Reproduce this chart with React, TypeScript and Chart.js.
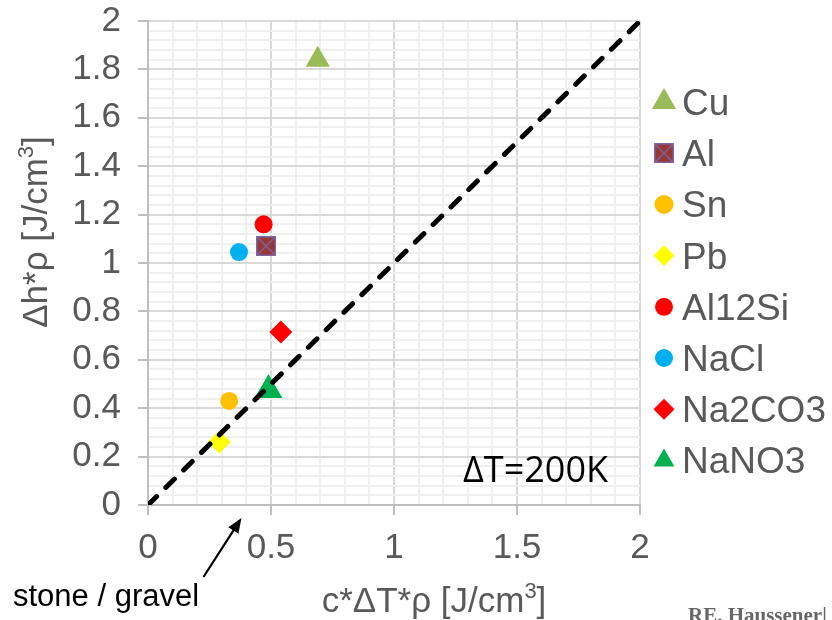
import React, { useEffect, useRef } from "react";
import { Chart, registerables } from "chart.js";
import { drawPoint } from "chart.js/helpers";

Chart.register(...registerables);

// ---- data ----
const materials = ["Cu", "Al", "Sn", "Pb", "Al12Si", "NaCl", "Na2CO3", "NaNO3"];
const sensibleHeat = [0.69, 0.48, 0.33, 0.29, 0.47, 0.37, 0.54, 0.49]; // c*ΔT*ρ [J/cm3]
const latentHeat = [1.84, 1.07, 0.43, 0.26, 1.16, 1.045, 0.715, 0.475]; // Δh*ρ [J/cm3]
const parityX = [0, 2];
const parityY = [0, 2];
const xTickLabels = ["0", "0.5", "1", "1.5", "2"];
const yTickLabels = ["0", "0.2", "0.4", "0.6", "0.8", "1", "1.2", "1.4", "1.6", "1.8", "2"];
const noteText = "ΔT=200K";
const arrowText = "stone / gravel";
const creditText = "RE. Haussener|";

// ---- styles ----
const markerColors = ["#9BBB59", "#953735", "#FFC000", "#FFFF00", "#FF0000", "#00B0F0", "#FF0000", "#00B050"];
const markerShapes = ["triangle", "AL", "circle", "rectRot", "circle", "circle", "rectRot", "triangle"];
const markerRadius = [14, 10, 9, 11.5, 9, 9, 11.5, 16];
const legendRadius = [14, 10, 9.5, 10.5, 9, 9, 10.5, 12];
const FONT = "'Liberation Sans', Arial, sans-serif";
const TEXT_GRAY = "#595959";

const isMajor = (v: number, step: number) => Math.abs(v / step - Math.round(v / step)) < 1e-6;

function makeAlMarker(): HTMLCanvasElement {
  const c = document.createElement("canvas");
  c.width = 20;
  c.height = 20;
  const m = c.getContext("2d")!;
  m.fillStyle = "#953735";
  m.fillRect(0, 0, 20, 20);
  m.strokeStyle = "#8064A2";
  m.lineWidth = 1.5;
  m.strokeRect(0.75, 0.75, 18.5, 18.5);
  m.beginPath();
  m.moveTo(1, 1);
  m.lineTo(19, 19);
  m.moveTo(19, 1);
  m.lineTo(1, 19);
  m.stroke();
  return c;
}

function drawSupText(ctx: CanvasRenderingContext2D, main: string, sup: string, tail: string, cx: number, baseline: number, size: number) {
  const f = `${size}px ${FONT}`;
  const fs = `${Math.round(size * 0.62)}px ${FONT}`;
  ctx.font = f;
  const w1 = ctx.measureText(main).width;
  const w3 = ctx.measureText(tail).width;
  ctx.font = fs;
  const w2 = ctx.measureText(sup).width;
  let x = cx - (w1 + w2 + w3) / 2;
  ctx.textAlign = "left";
  ctx.textBaseline = "alphabetic";
  ctx.font = f;
  ctx.fillText(main, x, baseline);
  x += w1;
  ctx.font = fs;
  ctx.fillText(sup, x, baseline - size * 0.4);
  x += w2;
  ctx.font = f;
  ctx.fillText(tail, x, baseline);
}

export default function App() {
  const ref = useRef<HTMLCanvasElement>(null);

  useEffect(() => {
    const canvas = ref.current!;
    const alMarker = makeAlMarker();
    const shapeOf = (i: number): any => (markerShapes[i] === "AL" ? alMarker : markerShapes[i]);

    const datasets: any[] = materials.map((name, i) => ({
      label: name,
      data: [{ x: sensibleHeat[i], y: latentHeat[i] }],
      pointStyle: shapeOf(i),
      pointRadius: markerRadius[i],
      pointHoverRadius: markerRadius[i],
      pointBackgroundColor: markerColors[i],
      pointBorderColor: markerColors[i],
      pointBorderWidth: 0,
      showLine: false,
      order: 1,
    }));
    datasets.push({
      label: "parity",
      data: parityX.map((x, i) => ({ x, y: parityY[i] })),
      showLine: true,
      borderColor: "#000000",
      borderWidth: 5,
      borderDash: [12, 13],
      borderCapStyle: "round",
      pointRadius: 0,
      pointHoverRadius: 0,
      fill: false,
      order: 0,
    });

    const overlay = {
      id: "overlay",
      afterDraw(chart: any) {
        const ctx: CanvasRenderingContext2D = chart.ctx;
        const { right, top, bottom } = chart.chartArea;
        const xs = chart.scales.x;
        ctx.save();

        // legend
        const lx = right + 24;
        materials.forEach((name, i) => {
          const ly = top + 81 + i * 51.2;
          ctx.fillStyle = markerColors[i];
          ctx.strokeStyle = markerColors[i];
          drawPoint(ctx, { pointStyle: shapeOf(i), radius: legendRadius[i], rotation: 0, borderWidth: 0 } as any, lx, ly);
          ctx.fillStyle = TEXT_GRAY;
          ctx.font = `37px ${FONT}`;
          ctx.textAlign = "left";
          ctx.textBaseline = "alphabetic";
          ctx.fillText(name, lx + 18, ly + 13);
        });

        // axis titles
        ctx.fillStyle = TEXT_GRAY;
        drawSupText(ctx, "c*ΔT*ρ [J/cm", "3", "]", 434, 612, 35);
        ctx.save();
        ctx.translate(47, 232);
        ctx.rotate(-Math.PI / 2);
        drawSupText(ctx, "Δh*ρ [J/cm", "3", "]", 0, 0, 35);
        ctx.restore();

        // ΔT note
        ctx.fillStyle = "#000000";
        ctx.font = `36px 'Open Sans', sans-serif`;
        ctx.textAlign = "left";
        ctx.textBaseline = "alphabetic";
        ctx.fillText(noteText, 463, 482);

        // arrow annotation
        const tipX = xs.getPixelForValue(0.38);
        const tipY = bottom + 13;
        const startX = tipX - 38;
        const startY = tipY + 59;
        const ang = Math.atan2(tipY - startY, tipX - startX);
        ctx.strokeStyle = "#000000";
        ctx.lineWidth = 2.2;
        ctx.beginPath();
        ctx.moveTo(startX, startY);
        ctx.lineTo(tipX - Math.cos(ang) * 10, tipY - Math.sin(ang) * 10);
        ctx.stroke();
        ctx.beginPath();
        ctx.moveTo(tipX, tipY);
        ctx.lineTo(tipX - Math.cos(ang) * 15 + Math.sin(ang) * 6, tipY - Math.sin(ang) * 15 - Math.cos(ang) * 6);
        ctx.lineTo(tipX - Math.cos(ang) * 15 - Math.sin(ang) * 6, tipY - Math.sin(ang) * 15 + Math.cos(ang) * 6);
        ctx.closePath();
        ctx.fillStyle = "#000000";
        ctx.fill();

        ctx.font = `31px ${FONT}`;
        ctx.fillText(arrowText, 13, 606);

        // credit
        ctx.fillStyle = "#666666";
        ctx.font = `bold 21px 'Liberation Serif', 'Times New Roman', serif`;
        ctx.fillText(creditText, 688, 622);

        ctx.restore();
      },
    };

    const tickFont = { family: FONT, size: 35, lineHeight: 1.2 };

    const chart = new Chart(canvas, {
      type: "scatter",
      data: { datasets },
      options: {
        responsive: false,
        animation: false,
        events: [],
        layout: { padding: { top: 0, right: 192, left: 0, bottom: 0 } },
        plugins: { legend: { display: false }, tooltip: { enabled: false } },
        scales: {
          x: {
            type: "linear",
            min: 0,
            max: 2,
            afterFit: (s: any) => {
              s.height = 115;
              s.paddingLeft = 0;
              s.paddingRight = 0;
            },
            ticks: {
              stepSize: 0.1,
              autoSkip: false,
              maxTicksLimit: 100,
              maxRotation: 0,
              padding: 12,
              color: TEXT_GRAY,
              font: tickFont,
              callback: (v: any) => (isMajor(v, 0.5) ? xTickLabels[Math.round(v / 0.5)] : ""),
            },
            grid: {
              color: (c: any) => (isMajor(c.tick.value, 0.5) ? "#d9d9d9" : "#f0f0f0"),
              lineWidth: 2,
              drawTicks: true,
              tickLength: 10,
              tickColor: (c: any) => (isMajor(c.tick.value, 0.5) ? "#bfbfbf" : "rgba(0,0,0,0)"),
            },
            border: { color: "#bfbfbf", width: 2 },
          },
          y: {
            type: "linear",
            min: 0,
            max: 2,
            afterFit: (s: any) => {
              s.width = 148;
              s.paddingTop = 21;
              s.paddingBottom = 0;
            },
            ticks: {
              stepSize: 0.04,
              autoSkip: false,
              maxTicksLimit: 100,
              padding: 17,
              color: TEXT_GRAY,
              font: tickFont,
              callback: (v: any) => (isMajor(v, 0.2) ? yTickLabels[Math.round(v / 0.2)] : ""),
            },
            grid: {
              color: (c: any) => (isMajor(c.tick.value, 0.2) ? "#d9d9d9" : "#f0f0f0"),
              lineWidth: 2,
              drawTicks: true,
              tickLength: 10,
              tickColor: (c: any) => (isMajor(c.tick.value, 0.2) ? "#bfbfbf" : "rgba(0,0,0,0)"),
            },
            border: { color: "#bfbfbf", width: 2 },
          },
        },
      } as any,
      plugins: [overlay],
    });

    return () => chart.destroy();
  }, []);

  return (
    <canvas
      ref={ref}
      width={832}
      height={620}
      style={{ position: "absolute", left: 0, top: 0, display: "block", width: 832, height: 620 }}
    />
  );
}
